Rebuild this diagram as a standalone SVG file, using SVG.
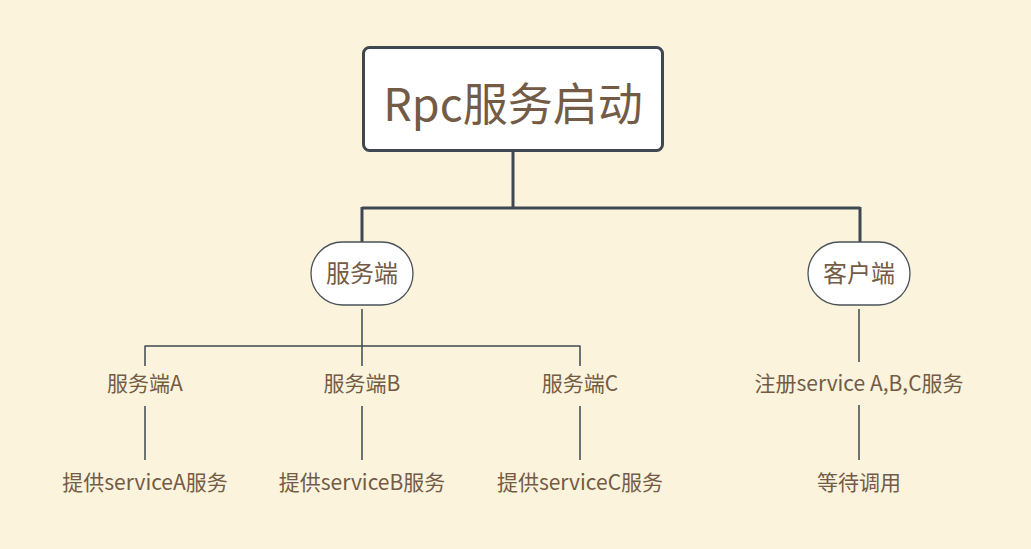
<svg xmlns="http://www.w3.org/2000/svg" width="1031" height="549" viewBox="0 0 1031 549">
<style>
text{font-family:"Noto Sans CJK SC","Noto Sans",sans-serif;fill:#735B45;text-anchor:middle}
.thick{stroke:#3F4850;stroke-width:3;fill:none}
.thin{stroke:#3F4850;stroke-width:1.5;fill:none}
.pill{fill:#fff;stroke:#4A5258;stroke-width:1.3}
.lbl{font-size:21px}
</style>
<rect width="1031" height="549" fill="#FBF3DC"/>
<g id="connectors">
<path class="thick" d="M513 152V208M362 208H860M362 207V243M860 207V243"/>
<path class="thin" d="M362 309V346M145 346H580M145 345.5V366M362 345.5V366M580 345.5V366"/>
<path class="thin" d="M145 406V460M362 406V460M580 406V460"/>
<path class="thin" d="M859 309V362M859 405V460"/>
</g>
<g id="root">
<rect x="363.5" y="47.5" width="299" height="103" rx="6" fill="#fff" stroke="#3F4850" stroke-width="3"/>
<text x="513" y="121" font-size="45">Rpc服务启动</text>
</g>
<g id="server">
<rect class="pill" x="311" y="242" width="102" height="63" rx="31.5"/>
<text x="362" y="282" font-size="24">服务端</text>
</g>
<g id="client">
<rect class="pill" x="808" y="242" width="102" height="63" rx="31.5"/>
<text x="859" y="282" font-size="24">客户端</text>
</g>
<g id="serverA"><text class="lbl" x="145" y="391">服务端A</text></g>
<g id="serverB"><text class="lbl" x="362" y="391">服务端B</text></g>
<g id="serverC"><text class="lbl" x="580" y="391">服务端C</text></g>
<g id="register"><text class="lbl" x="859" y="391">注册service A,B,C服务</text></g>
<g id="provideA"><text class="lbl" x="145" y="490">提供serviceA服务</text></g>
<g id="provideB"><text class="lbl" x="362" y="490">提供serviceB服务</text></g>
<g id="provideC"><text class="lbl" x="580" y="490">提供serviceC服务</text></g>
<g id="wait"><text class="lbl" x="859" y="490">等待调用</text></g>
</svg>
